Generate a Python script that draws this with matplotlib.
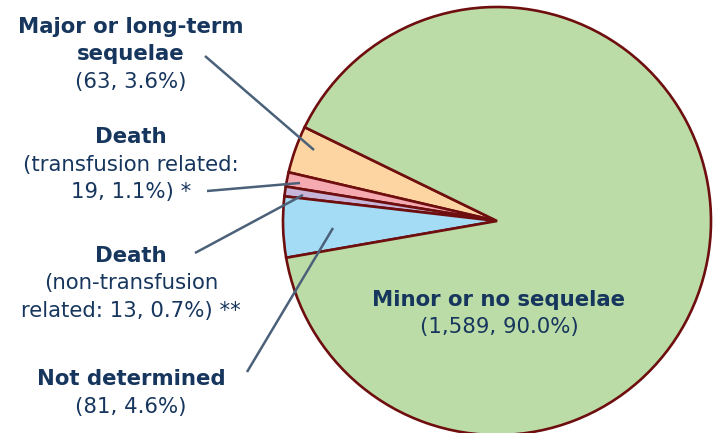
import matplotlib.pyplot as plt

# outcome categories, counts and shares (as shown on the chart)
titles = [["Major or long-term", "sequelae"], ["Death"], ["Death"], ["Not determined"], ["Minor or no sequelae"]]
details = [["(63, 3.6%)"], ["(transfusion related:", "19, 1.1%) *"], ["(non-transfusion", "related: 13, 0.7%) **"],
           ["(81, 4.6%)"], ["(1,589, 90.0%)"]]
counts = [63, 19, 13, 81, 1589]
colors = ["#fdd5a2", "#f5aab1", "#c7b5d9", "#a4dcf5", "#bcdca7"]

TEXT = "#17365d"
LINE = "#4b6179"
EDGE = "#6e0e0e"
H = 433

plt.rcParams["font.family"] = ["DejaVu Sans"]

fig = plt.figure(figsize=(7.2, 4.33), dpi=100)
ax = fig.add_axes([0, 0, 1, 1])

ax.pie(counts, colors=colors, startangle=154, counterclock=True,
       center=(497, H - 221), radius=214, frame=True,
       wedgeprops=dict(edgecolor=EDGE, linewidth=1.9))
ax.set_xlim(0, 720)
ax.set_ylim(0, 433)
ax.set_aspect("equal")
ax.axis("off")

fs = 15.3
step = 27.5

# label block: x center, first line y (pixels), leader line start / end (pixels)
blocks = [
    (131, 27, (205, 56), (314, 150)),
    (131, 137, (207, 191), (300, 183)),
    (131, 256, (195, 253), (303, 195)),
    (131, 379, (247, 372), (333, 228)),
    (499, 300, None, None),
]
for i, (x, y0, p0, p1) in enumerate(blocks):
    lines = [(t, "bold") for t in titles[i]] + [(t, "normal") for t in details[i]]
    for k, (txt, w) in enumerate(lines):
        ax.text(x, H - (y0 + k * step), txt, ha="center", va="center",
                fontsize=fs, fontweight=w, color=TEXT)
    if p0 is not None:
        ax.plot([p0[0], p1[0]], [H - p0[1], H - p1[1]], color=LINE, lw=1.8,
                solid_capstyle="butt")

fig.savefig("out.png", dpi=100)
